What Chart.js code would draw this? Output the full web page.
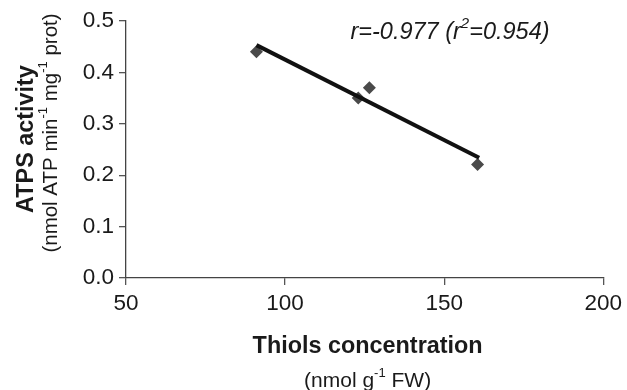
<!DOCTYPE html>
<html>
<head>
<meta charset="utf-8">
<script src="https://cdn.jsdelivr.net/npm/chart.js@4/dist/chart.umd.min.js"></script>
<style>
  body { margin: 0; background: #fff; }
</style>
</head>
<body>
<canvas id="grafico" width="627" height="390"></canvas>
<script>
// valores
var tioles = [91, 123, 126.5, 160.5];
var atps = [0.44, 0.35, 0.37, 0.221];
var rectaX = [91, 161];
var rectaY = [0.453, 0.234];
var xTicks = [50, 100, 150, 200];
var yTicks = [0.0, 0.1, 0.2, 0.3, 0.4, 0.5];

var fuente = '"Liberation Sans", Arial, sans-serif';

var puntos = [];
for (var i = 0; i < tioles.length; i++) {
  puntos.push({x: tioles[i], y: atps[i]});
}
var recta = [];
for (var j = 0; j < rectaX.length; j++) {
  recta.push({x: rectaX[j], y: rectaY[j]});
}

// texto con superindices: partes [texto, esSup]
function textoRico(ctx, partes, x, y, size, estilo) {
  var ancho = 0;
  partes.forEach(function(p){
    ctx.font = estilo + ' ' + (p[1] ? Math.round(size * 0.62) : size) + 'px ' + fuente;
    ancho += ctx.measureText(p[0]).width;
  });
  var cx = x - ancho / 2;
  ctx.textAlign = 'left';
  ctx.textBaseline = 'middle';
  partes.forEach(function(p){
    ctx.font = estilo + ' ' + (p[1] ? Math.round(size * 0.62) : size) + 'px ' + fuente;
    ctx.fillText(p[0], cx, p[1] ? y - size * 0.36 : y);
    cx += ctx.measureText(p[0]).width;
  });
}

var titulos = {
  id: 'titulos',
  afterDraw: function(chart) {
    var ctx = chart.ctx;
    var area = chart.chartArea;
    var cx = (area.left + area.right) / 2 + 3;
    ctx.save();
    ctx.fillStyle = '#1a1a1a';
    textoRico(ctx, [['Thiols concentration', false]], cx, 347, 23.4, 'bold');
    textoRico(ctx, [['(nmol g', false], ['-1', true], [' FW)', false]], cx, 381, 21, 'normal');
    textoRico(ctx, [['r=-0.977 (r', false], ['2', true], ['=0.954)', false]], 450, 32, 23.5, 'italic');

    ctx.translate(27, 139);
    ctx.rotate(-Math.PI / 2);
    textoRico(ctx, [['ATPS activity', false]], 0, 0, 23.4, 'bold');
    ctx.restore();

    ctx.save();
    ctx.fillStyle = '#1a1a1a';
    ctx.translate(51, 133);
    ctx.rotate(-Math.PI / 2);
    textoRico(ctx, [['(nmol ATP min', false], ['-1', true], [' mg', false], ['-1', true], [' prot)', false]], 0, 0, 20.5, 'normal');
    ctx.restore();
  }
};

var ctx = document.getElementById('grafico').getContext('2d');
var grafico = new Chart(ctx, {
  type: 'scatter',
  data: {
    datasets: [
      {
        type: 'line',
        label: 'Regresion',
        data: recta,
        borderColor: '#111',
        borderWidth: 4,
        pointRadius: 0,
        fill: false,
        order: 0
      },
      {
        label: 'ATPS',
        data: puntos,
        pointStyle: 'rectRot',
        pointRadius: 6.5,
        pointBorderWidth: 0,
        backgroundColor: '#4a4a4a',
        borderColor: '#4a4a4a',
        order: 1
      }
    ]
  },
  options: {
    responsive: false,
    animation: false,
    layout: { padding: { top: 21, right: 23, left: 0, bottom: 0 } },
    plugins: {
      legend: { display: false },
      tooltip: { enabled: false }
    },
    scales: {
      x: {
        type: 'linear',
        min: 50,
        max: 200,
        afterBuildTicks: function(scale) {
          scale.ticks = xTicks.map(function(v){ return {value: v}; });
        },
        afterFit: function(scale) { scale.height = 112; },
        border: { color: '#444', width: 1.3 },
        grid: { drawOnChartArea: false, drawTicks: true, tickLength: 7, color: '#555', lineWidth: 1.3 },
        ticks: {
          color: '#1a1a1a',
          padding: 5,
          maxRotation: 0,
          font: { family: fuente, size: 22.5 }
        }
      },
      y: {
        type: 'linear',
        min: 0,
        max: 0.5,
        afterBuildTicks: function(scale) {
          scale.ticks = yTicks.map(function(v){ return {value: v}; });
        },
        afterFit: function(scale) { scale.width = 126; },
        border: { color: '#444', width: 1.3 },
        grid: { drawOnChartArea: false, drawTicks: true, tickLength: 7, color: '#555', lineWidth: 1.3 },
        ticks: {
          color: '#1a1a1a',
          padding: 5,
          font: { family: fuente, size: 22.5 },
          callback: function(v) { return v.toFixed(1); }
        }
      }
    }
  },
  plugins: [titulos]
});
</script>
</body>
</html>
